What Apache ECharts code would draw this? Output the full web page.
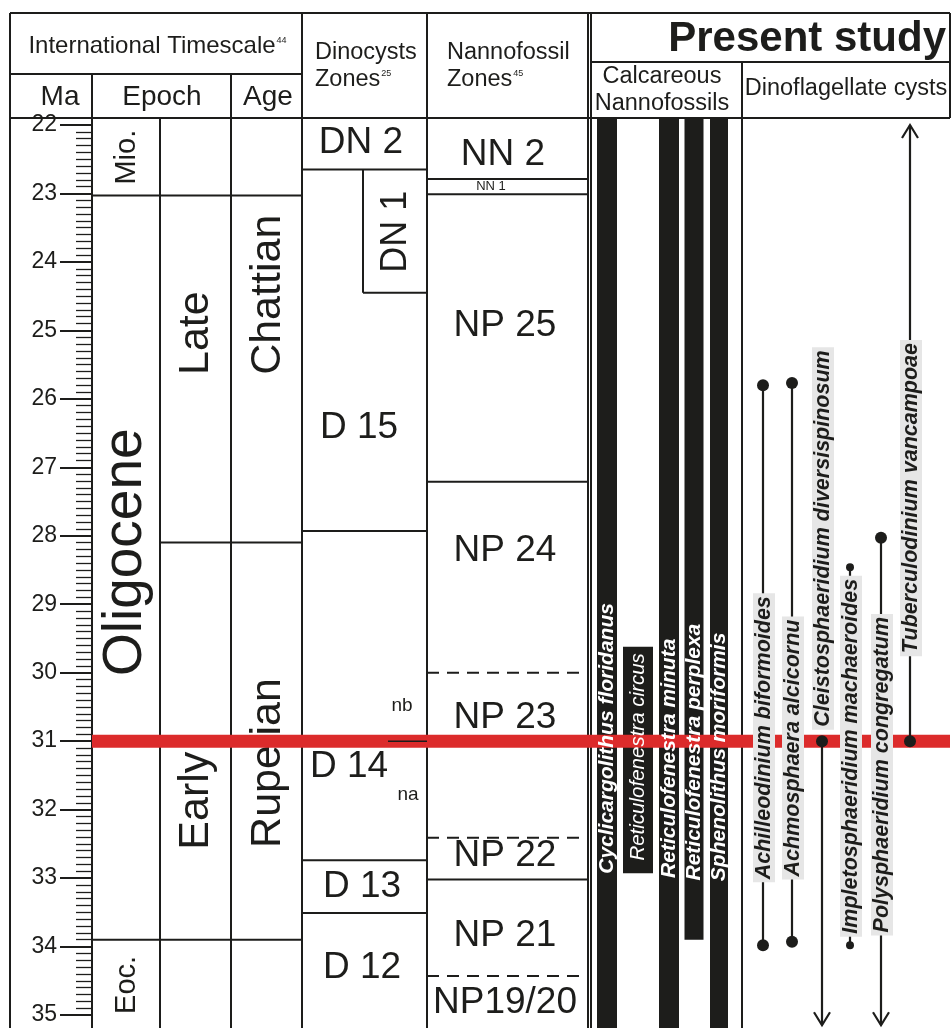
<!DOCTYPE html>
<html lang="en">
<head>
<meta charset="UTF-8">
<title>Oligocene biostratigraphy</title>
<style>
  html, body { margin: 0; padding: 0; background: #fff; }
  #chart { width: 952px; height: 1028px; }
</style>
<script src="https://cdn.jsdelivr.net/npm/echarts@6.0.0/dist/echarts.min.js"></script>
</head>
<body>
<div id="chart"></div>
<script>
var FONT = '"Liberation Sans", Arial, Helvetica, sans-serif';
var INK = '#1d1d1b';
var RED = '#dc2b2b';
var TOP = 21.9;   // column boxes start a little above 22 Ma
var BASE = 35.2;  // and run past 35 Ma at the bottom

// ---- time scale (Ma) ----
var epochNames = ['Mio.', 'Oligocene', 'Eoc.'];
var epochBases = [23.03, 33.9, BASE];
var epochLabelMa = [22.47, 28.24, 34.56];

var subEpochNames = ['', 'Late', 'Early', ''];
var subEpochBases = [23.03, 28.1, 33.9, BASE];
var subEpochLabelMa = [null, 25.04, 31.87, null];

var ageNames = ['', 'Chattian', 'Rupelian', ''];
var ageBases = [23.03, 28.1, 33.9, BASE];
var ageLabelMa = [null, 24.48, 31.32, null];

// ---- dinocyst zones ----
var dinoZoneNames = ['DN 2', 'D 15', 'D 14', 'D 13', 'D 12'];
var dinoZoneBases = [22.65, 27.93, 32.74, 33.51, BASE];
var dinoZoneLabelMa = [22.26, 26.43, 31.38, 33.13, 34.31];
var dn1Name = 'DN 1';
var dn1Range = [22.65, 24.45];
var dn1LabelMa = 23.56;
var d14Split = 31.0;
var d14SubNames = ['nb', 'na'];
var d14SubLabelMa = [30.49, 31.79];

// ---- nannofossil zones ----
var nannoZoneNames = ['NN 2', 'NN 1', 'NP 25', 'NP 24', 'NP 23', 'NP 22', 'NP 21', 'NP19/20'];
var nannoZoneBases = [22.79, 23.01, 27.21, 30.0, 32.41, 33.02, 34.43, BASE];
var nannoBaseDashed = [false, false, false, true, true, false, true, false];
var nannoLabelMa = [22.43, 22.9, 24.94, 28.22, 30.66, 32.68, 33.85, 34.82];

// ---- present study ----
var studyLevel = 31.0;

var calcTaxa = ['Cyclicargolithus floridanus', 'Reticulofenestra circus', 'Reticulofenestra minuta',
  'Reticulofenestra perplexa', 'Sphenolithus moriformis'];
var calcTop = [TOP, 29.62, TOP, TOP, TOP];
var calcBase = [BASE, 32.93, BASE, 33.9, BASE];
var calcLabelMa = [30.96, 31.23, 31.25, 31.16, 31.23];

var dinoTaxa = ['Achilleodinium biformoides', 'Achmosphaera alcicornu', 'Cleistosphaeridium diversispinosum',
  'Impletosphaeridium machaeroides', 'Polysphaeridium congregatum', 'Tuberculodinium vancampoae'];
var dinoTop = [25.80, 25.77, 31.0, 28.46, 28.03, 22.0];
var dinoBase = [33.98, 33.93, 35.15, 33.98, 35.15, 31.0];
var dinoTopEnd = ['dot', 'dot', 'dot', 'small', 'dot', 'arrow'];
var dinoBaseEnd = ['dot', 'dot', 'arrow', 'small', 'arrow', 'dot'];
var dinoLabelMa = [30.95, 31.1, 28.04, 31.22, 31.49, 27.45];

// ---- layout (pixels) ----
var COL = { left: 10, ma: 92, epoch: 160, sub: 231, age: 302, dn1: 363, dino: 427,
  nanno: 588, study: 591, calc: 742, right: 950 };
var calcX = [607, 638, 669, 694, 719];
var calcW = [20, 30, 20, 19, 18];
var calcLabelFont = ['italic bold 21px', 'italic 20.5px', 'italic bold 21px', 'italic bold 21px', 'italic bold 21px'];
var dinoX = [763, 792, 822, 850, 881, 910];

function font(spec) { return spec + ' ' + FONT; }

var measureCtx = document.createElement('canvas').getContext('2d');
function textWidth(text, f) { measureCtx.font = f; return measureCtx.measureText(text).width; }

function seg(p0, p1, w, dash) {
  return { type: 'line', shape: { x1: p0[0], y1: p0[1], x2: p1[0], y2: p1[1] },
    style: { stroke: INK, lineWidth: w || 2, lineDash: dash || null } };
}

function label(text, p, f, opt) {
  opt = opt || {};
  var style = { text: text, fill: opt.fill || INK, font: f,
    align: opt.align || 'center', textAlign: opt.align || 'center',
    verticalAlign: 'middle', textVerticalAlign: 'middle' };
  if (opt.bg) {
    style.backgroundColor = opt.bg;
    style.padding = [1, 3, 1, 3];
    style.lineHeight = opt.lineHeight || 21;
  }
  return { type: 'text', x: p[0], y: p[1], rotation: opt.rotate ? Math.PI / 2 : 0, style: style };
}

// one stratigraphic column: base line of each zone plus its name
function zoneColumn(names, bases, labelMa, x0, x1, opt) {
  return {
    type: 'custom', z: 2, clip: false, silent: true,
    data: names.map(function (n, i) { return [x0, bases[i]]; }),
    renderItem: function (params, api) {
      var i = params.dataIndex;
      var kids = [];
      if (bases[i] < BASE) {
        var dash = opt.dashed && opt.dashed[i] ? [12, 8] : null;
        kids.push(seg(api.coord([x0, bases[i]]), api.coord([x1, bases[i]]), 2, dash));
      }
      if (names[i] && labelMa[i] != null) {
        var lx = opt.labelX ? opt.labelX[i] : (x0 + x1) / 2;
        kids.push(label(names[i], api.coord([lx, labelMa[i]]), font(opt.sizes[i] + 'px'),
          { rotate: opt.rotate, align: opt.align ? opt.align[i] : 'center' }));
      }
      return { type: 'group', children: kids };
    }
  };
}

var series = [
  zoneColumn(epochNames, epochBases, epochLabelMa, COL.ma, COL.epoch,
    { rotate: true, sizes: [29, 55, 29], labelX: [127, 126, 127] }),
  zoneColumn(subEpochNames, subEpochBases, subEpochLabelMa, COL.epoch, COL.sub,
    { rotate: true, sizes: [0, 43, 43], labelX: [196, 196, 196, 196] }),
  zoneColumn(ageNames, ageBases, ageLabelMa, COL.sub, COL.age,
    { rotate: true, sizes: [0, 43, 43], labelX: [268, 268, 268, 268] }),
  zoneColumn(dinoZoneNames, dinoZoneBases, dinoZoneLabelMa, COL.age, COL.dino,
    { sizes: [37, 37, 37, 37, 37], labelX: [361, 359, 349, 362, 362] }),
  zoneColumn(nannoZoneNames, nannoZoneBases, nannoLabelMa, COL.dino, COL.nanno,
    { sizes: [37, 13, 37, 37, 37, 37, 37, 37], labelX: [503, 491, 505, 505, 505, 505, 505, 505],
      dashed: nannoBaseDashed }),
  // DN 1 inset box and the D 14 subzone labels
  {
    type: 'custom', z: 2, clip: false, silent: true,
    data: [[COL.dn1, dn1Range[0]]],
    renderItem: function (params, api) {
      var kids = [
        seg(api.coord([COL.dn1, dn1Range[0]]), api.coord([COL.dn1, dn1Range[1]])),
        seg(api.coord([COL.dn1, dn1Range[1]]), api.coord([COL.dino, dn1Range[1]])),
        label(dn1Name, api.coord([396, dn1LabelMa]), font('36px'), { rotate: true }),
        label(d14SubNames[0], api.coord([402, d14SubLabelMa[0]]), font('19px')),
        label(d14SubNames[1], api.coord([408, d14SubLabelMa[1]]), font('19px'))
      ];
      return { type: 'group', children: kids };
    }
  },
  // calcareous nannofossil ranges
  {
    type: 'custom', z: 2, clip: false, silent: true,
    data: calcTaxa.map(function (t, i) { return [calcX[i], calcTop[i]]; }),
    renderItem: function (params, api) {
      var i = params.dataIndex;
      var p0 = api.coord([calcX[i] - calcW[i] / 2, calcTop[i]]);
      var p1 = api.coord([calcX[i] + calcW[i] / 2, calcBase[i]]);
      return { type: 'rect', shape: { x: p0[0], y: p0[1], width: p1[0] - p0[0], height: p1[1] - p0[1] },
        style: { fill: INK } };
    }
  },
  // studied level
  {
    type: 'custom', z: 3, clip: false, silent: true,
    data: [[COL.ma, studyLevel]],
    renderItem: function (params, api) {
      var p0 = api.coord([COL.ma, studyLevel]);
      var p1 = api.coord([COL.right, studyLevel]);
      return { type: 'rect', shape: { x: p0[0], y: p0[1] - 6.5, width: p1[0] - p0[0], height: 13 },
        style: { fill: RED } };
    }
  },
  // D 14 na / nb split, above the red band
  {
    type: 'custom', z: 4, clip: false, silent: true,
    data: [[388, d14Split]],
    renderItem: function (params, api) {
      return seg(api.coord([388, d14Split]), api.coord([COL.dino, d14Split]), 1.5);
    }
  },
  // calcareous nannofossil names
  {
    type: 'custom', z: 4, clip: false, silent: true,
    data: calcTaxa.map(function (t, i) { return [calcX[i], calcLabelMa[i]]; }),
    renderItem: function (params, api) {
      var i = params.dataIndex;
      return label(calcTaxa[i], api.coord([calcX[i] + 0.5, calcLabelMa[i]]), font(calcLabelFont[i]),
        { rotate: true, fill: '#ffffff' });
    }
  },
  // dinoflagellate cyst ranges
  {
    type: 'custom', z: 4, clip: false, silent: true,
    data: dinoTaxa.map(function (t, i) { return [dinoX[i], dinoTop[i]]; }),
    renderItem: function (params, api) {
      var i = params.dataIndex;
      var top = api.coord([dinoX[i], dinoTop[i]]);
      var bot = api.coord([dinoX[i], dinoBase[i]]);
      var kids = [seg(top, bot, 2.2)];
      function end(p, kind, dir) {
        if (kind === 'arrow') {
          kids.push({ type: 'polyline', shape: { points: [[p[0] - 8, p[1] - dir * 13], p, [p[0] + 8, p[1] - dir * 13]] },
            style: { stroke: INK, lineWidth: 2.2, fill: null } });
        } else {
          kids.push({ type: 'circle', shape: { cx: p[0], cy: p[1], r: kind === 'small' ? 4 : 6 },
            style: { fill: INK } });
        }
      }
      end(top, dinoTopEnd[i], -1);
      end(bot, dinoBaseEnd[i], 1);
      return { type: 'group', children: kids };
    }
  },
  // dinoflagellate cyst names
  {
    type: 'custom', z: 5, clip: false, silent: true,
    data: dinoTaxa.map(function (t, i) { return [dinoX[i], dinoLabelMa[i]]; }),
    renderItem: function (params, api) {
      var i = params.dataIndex;
      return label(dinoTaxa[i], api.coord([dinoX[i] + 1, dinoLabelMa[i]]), font('italic bold 21.5px'),
        { rotate: true, bg: '#e6e6e6', lineHeight: 20 });
    }
  }
];

// ---- header and column frame ----
function gline(x1, y1, x2, y2) {
  return { type: 'line', z: 1, shape: { x1: x1, y1: y1, x2: x2, y2: y2 }, style: { stroke: INK, lineWidth: 2 } };
}
function gtext(text, x, y, f, align) {
  return { type: 'text', z: 6, x: x, y: y,
    style: { text: text, font: f, fill: INK, align: align || 'center', textAlign: align || 'center',
      verticalAlign: 'middle', textVerticalAlign: 'middle' } };
}
var HEAD_TOP = 13, HEAD_MID = 74, STUDY_MID = 62, HEAD_BOT = 118, FOOT = 1028;
var hdr = font('23.5px');
var sup = font('9px');
var itsFont = font('24px');
var itsW = textWidth('International Timescale', itsFont);
var zonesW = textWidth('Zones', hdr);

var graphics = [
  gline(COL.left, HEAD_TOP, COL.right, HEAD_TOP),
  gline(COL.left, HEAD_MID, COL.age, HEAD_MID),
  gline(COL.study, STUDY_MID, COL.right, STUDY_MID),
  gline(COL.left, HEAD_BOT, COL.right, HEAD_BOT),
  gline(COL.left, HEAD_TOP, COL.left, FOOT),
  gline(COL.ma, HEAD_MID, COL.ma, FOOT),
  gline(COL.epoch, HEAD_BOT, COL.epoch, FOOT),
  gline(COL.sub, HEAD_MID, COL.sub, FOOT),
  gline(COL.age, HEAD_TOP, COL.age, FOOT),
  gline(COL.dino, HEAD_TOP, COL.dino, FOOT),
  gline(COL.nanno, HEAD_TOP, COL.nanno, FOOT),
  gline(COL.study, HEAD_TOP, COL.study, FOOT),
  gline(COL.calc, STUDY_MID, COL.calc, FOOT),
  gline(COL.right, HEAD_TOP, COL.right, HEAD_BOT),
  gtext('International Timescale', 152 - itsW / 2, 46, itsFont, 'left'),
  gtext('44', 152 + itsW / 2 + 1, 41, sup, 'left'),
  gtext('Ma', 60, 97, font('28px')),
  gtext('Epoch', 162, 97, font('28px')),
  gtext('Age', 268, 97, font('28px')),
  gtext('Dinocysts', 315, 53, hdr, 'left'),
  gtext('Zones', 315, 80, hdr, 'left'),
  gtext('25', 315 + zonesW + 1, 74, sup, 'left'),
  gtext('Nannofossil', 447, 53, hdr, 'left'),
  gtext('Zones', 447, 80, hdr, 'left'),
  gtext('45', 447 + zonesW + 1, 74, sup, 'left'),
  gtext('Present study', 946, 39, font('bold 42px'), 'right'),
  gtext('Calcareous', 662, 77, hdr),
  gtext('Nannofossils', 662, 104, hdr),
  gtext('Dinoflagellate cysts', 846, 89, hdr)
];

var chart = echarts.init(document.getElementById('chart'), null, { renderer: 'canvas' });
chart.setOption({
  animation: false,
  backgroundColor: '#ffffff',
  grid: { left: COL.ma, right: 0, top: 125, bottom: 13, containLabel: false, outerBoundsMode: 'none' },
  xAxis: { type: 'value', min: COL.ma, max: 952, show: false },
  yAxis: {
    type: 'value', inverse: true, min: 22, max: 35, interval: 1,
    axisLine: { show: true, lineStyle: { color: INK, width: 2 } },
    axisTick: { show: true, length: 32, lineStyle: { color: INK, width: 2 } },
    minorTick: { show: true, splitNumber: 10, length: 16, lineStyle: { color: INK, width: 1.3 } },
    axisLabel: { margin: 35, fontSize: 23, color: INK, fontFamily: FONT },
    splitLine: { show: false }
  },
  graphic: { elements: graphics },
  series: series
});
</script>
</body>
</html>
